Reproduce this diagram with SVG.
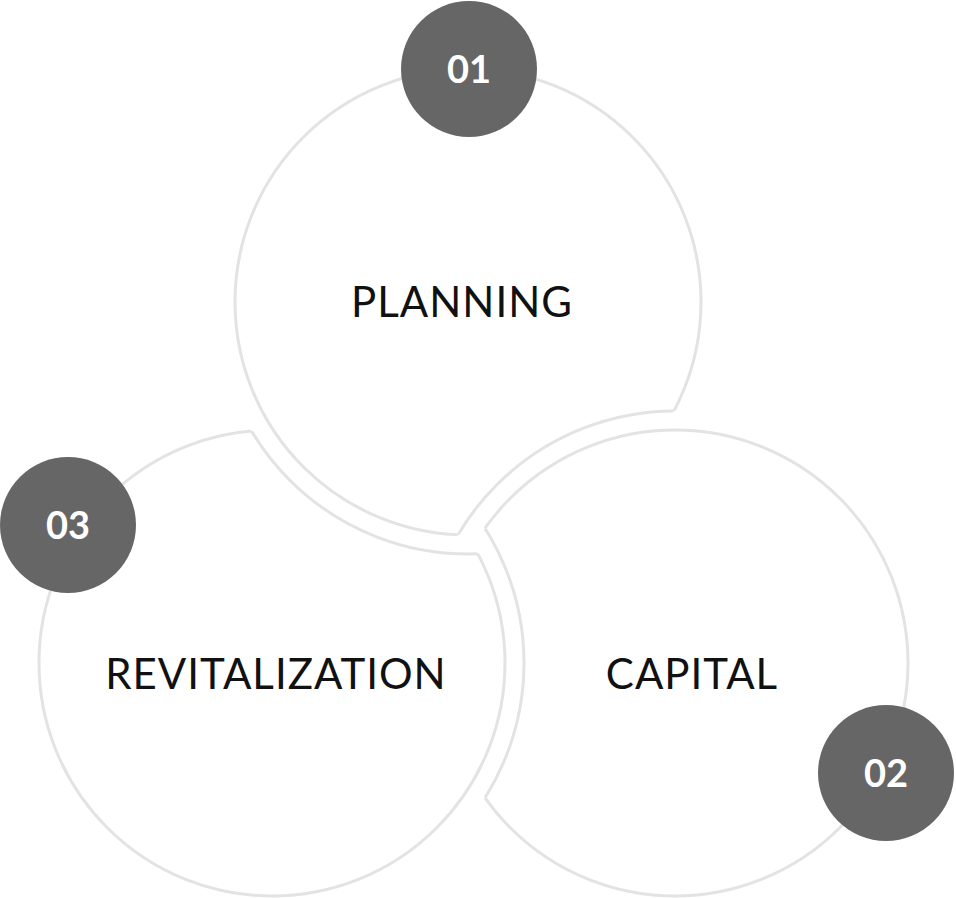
<svg xmlns="http://www.w3.org/2000/svg" width="956" height="898" viewBox="0 0 956 898">
<style>
.s{fill:none;stroke:#e3e3e3;stroke-width:3}
.b{fill:#666}
.n{fill:#fff;font-family:Lato,"Noto Sans",sans-serif;font-weight:bold;font-size:38px;text-anchor:middle}
.l{fill:#111;font-family:Lato,"Noto Sans",sans-serif;font-size:42px;text-anchor:middle;letter-spacing:1px}
</style>
<defs>
<mask id="outR"><rect width="956" height="898" fill="#fff"/><circle cx="675" cy="663" r="252" fill="#000"/></mask>
<mask id="outL"><rect width="956" height="898" fill="#fff"/><circle cx="272" cy="663" r="252" fill="#000"/></mask>
<mask id="outT"><rect width="956" height="898" fill="#fff"/><circle cx="468" cy="302" r="252" fill="#000"/></mask>
<clipPath id="inT"><circle cx="468" cy="302" r="233"/></clipPath>
<clipPath id="inR"><circle cx="675" cy="663" r="233"/></clipPath>
<clipPath id="inL"><circle cx="272" cy="663" r="233"/></clipPath>
</defs>
<rect width="956" height="898" fill="#fff"/>
<g id="planning">
<circle class="s" cx="468" cy="302" r="233" mask="url(#outR)"/>
<circle class="s" cx="675" cy="663" r="252" clip-path="url(#inT)"/>
<text class="l" x="462" y="317">PLANNING</text>
</g>
<g id="capital">
<circle class="s" cx="675" cy="663" r="233" mask="url(#outL)"/>
<circle class="s" cx="272" cy="663" r="252" clip-path="url(#inR)"/>
<text class="l" x="692" y="689">CAPITAL</text>
</g>
<g id="revitalization">
<circle class="s" cx="272" cy="663" r="233" mask="url(#outT)"/>
<circle class="s" cx="468" cy="302" r="252" clip-path="url(#inL)"/>
<text class="l" x="276" y="689">REVITALIZATION</text>
</g>
<g id="badge01"><circle class="b" cx="469" cy="69" r="68"/><text class="n" x="469" y="83">01</text></g>
<g id="badge03"><circle class="b" cx="68" cy="525" r="68"/><text class="n" x="68" y="539">03</text></g>
<g id="badge02"><circle class="b" cx="886" cy="773" r="68"/><text class="n" x="886" y="787">02</text></g>
<g id="connectors"></g>
</svg>
